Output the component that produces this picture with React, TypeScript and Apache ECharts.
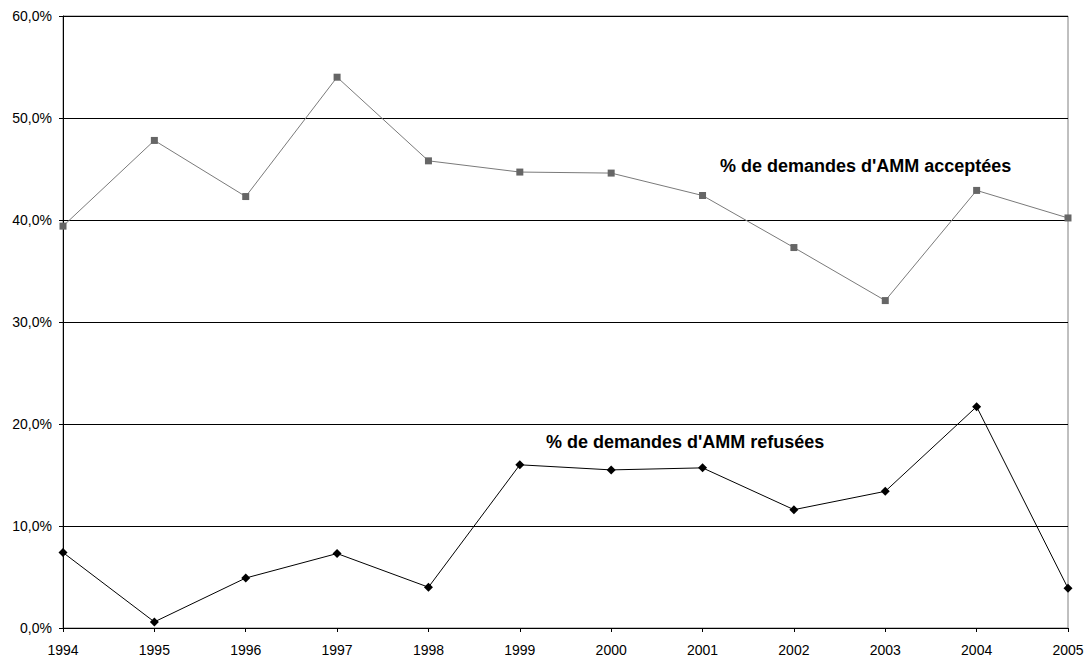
import React, { useEffect, useRef } from "react";
import * as echarts from "echarts";

const years = ["1994", "1995", "1996", "1997", "1998", "1999", "2000", "2001", "2002", "2003", "2004", "2005"];
const accepted = [39.4, 47.8, 42.3, 54.0, 45.8, 44.7, 44.6, 42.4, 37.3, 32.1, 42.9, 40.2];
const refused = [7.4, 0.6, 4.9, 7.3, 4.0, 16.0, 15.5, 15.7, 11.6, 13.4, 21.7, 3.9];
const acceptedLabel = "% de demandes d'AMM acceptées";
const refusedLabel = "% de demandes d'AMM refusées";

export default function App() {
  const ref = useRef<HTMLDivElement>(null);
  useEffect(() => {
    if (!ref.current) return;
    const chart = echarts.init(ref.current, null, { renderer: "svg" });
    const font = "'Liberation Sans', Arial, sans-serif";
    chart.setOption({
      animation: false,
      backgroundColor: "#ffffff",
      grid: { left: 63, right: 19, top: 16, bottom: 31, containLabel: false },
      xAxis: {
        type: "category",
        data: years,
        boundaryGap: false,
        axisLine: { lineStyle: { color: "#000", width: 1 } },
        axisTick: { show: true, length: 4, lineStyle: { color: "#000" } },
        axisLabel: { color: "#000", fontFamily: font, fontSize: 14, margin: 15 },
        splitLine: { show: false },
      },
      yAxis: {
        type: "value",
        min: 0,
        max: 60,
        interval: 10,
        axisLine: { show: true, lineStyle: { color: "#000", width: 1 } },
        axisTick: { show: true, length: 4, lineStyle: { color: "#000" } },
        axisLabel: {
          color: "#000",
          fontFamily: font,
          fontSize: 14,
          margin: 11,
          formatter: (v: number) => v.toFixed(1).replace(".", ",") + "%",
        },
        splitLine: { show: true, lineStyle: { color: "#000", width: 1 } },
      },
      series: [
        {
          name: acceptedLabel,
          type: "line",
          data: accepted,
          symbol: "rect",
          symbolSize: 7,
          lineStyle: { color: "#7a7a7a", width: 1 },
          itemStyle: { color: "#666666" },
          z: 3,
        },
        {
          name: refusedLabel,
          type: "line",
          data: refused,
          symbol: "diamond",
          symbolSize: 9,
          lineStyle: { color: "#000", width: 1 },
          itemStyle: { color: "#000" },
          z: 4,
        },
      ],
      graphic: [
        {
          type: "rect",
          shape: { x: 63, y: 16, width: 1005, height: 612 },
          style: { fill: "none", stroke: "#808080", lineWidth: 1 },
          silent: true,
          z: 0,
        },
        {
          type: "text",
          left: 720,
          top: 157,
          style: { text: acceptedLabel, font: "bold 18px 'Liberation Sans', Arial, sans-serif", fill: "#000" },
        },
        {
          type: "text",
          left: 546,
          top: 433,
          style: { text: refusedLabel, font: "bold 18px 'Liberation Sans', Arial, sans-serif", fill: "#000" },
        },
      ],
    });
    return () => chart.dispose();
  }, []);
  return <div ref={ref} style={{ width: 1087, height: 659, position: "absolute", left: 0, top: 0 }} />;
}
